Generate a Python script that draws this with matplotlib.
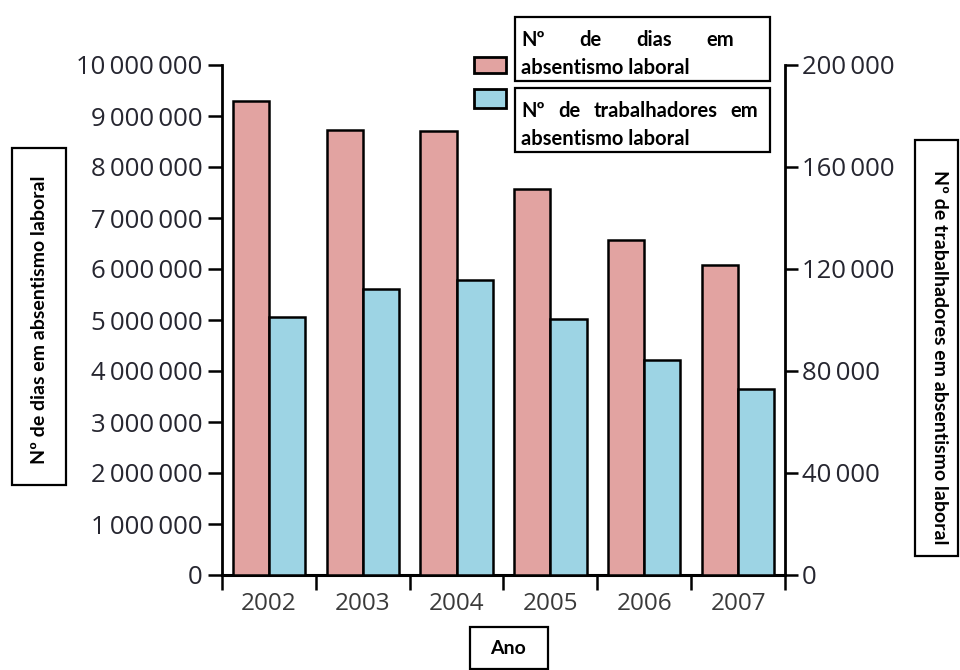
import matplotlib
matplotlib.use("Agg")
import matplotlib.pyplot as plt
from matplotlib.patches import Rectangle
import numpy as np

# data
anos = ['2002', '2003', '2004', '2005', '2006', '2007']
dias = [9290000, 8730000, 8710000, 7560000, 6570000, 6080000]  # left axis
trabalhadores = [101300, 112000, 115700, 100300, 84300, 72900]  # right axis
left_ticks = np.arange(0, 10000001, 1000000)
right_ticks = np.arange(0, 200001, 40000)
label_dias = 'Nº de dias em absentismo laboral'
label_trab = 'Nº de trabalhadores em absentismo laboral'

W, H = 960, 670
pink = '#e2a3a1'
blue = '#9dd4e4'
numFont = ['Open Sans', 'DejaVu Sans']
boldFont = ['Lato', 'DejaVu Sans']

def px(x, y):  # pixel position -> figure fraction
    return x / W, 1 - y / H

def fmt(v):
    s = '{:,}'.format(int(v))
    return s.replace(',', '\u2009')

fig = plt.figure(figsize=(9.6, 6.7), dpi=100)
ax = fig.add_axes([222 / W, 1 - 575 / H, (785 - 222) / W, (575 - 65) / H])
ax2 = ax.twinx()

x = np.arange(len(anos))
bw = 0.385
ax.bar(x - bw / 2, dias, bw, color=pink, edgecolor='black', linewidth=1.8, zorder=3)
ax2.bar(x + bw / 2, trabalhadores, bw, color=blue, edgecolor='black', linewidth=1.8, zorder=3)

ax.set_xlim(-0.5, len(anos) - 0.5)
ax.set_ylim(0, 10000000)
ax2.set_ylim(0, 200000)

# left axis
ax.set_yticks(left_ticks)
ax.set_yticklabels([fmt(v) for v in left_ticks], family=numFont, fontsize=18.5, color='#262630')
ax.tick_params(axis='y', direction='out', length=10, width=1.8, pad=4)

# right axis
ax2.set_yticks(right_ticks)
ax2.set_yticklabels([fmt(v) for v in right_ticks], family=numFont, fontsize=18.5, color='#262630')
ax2.tick_params(axis='y', direction='out', length=9, width=1.8, pad=3)

# x axis: ticks between groups, labels at centers
ax.set_xticks(np.arange(-0.5, len(anos), 1.0))
ax.set_xticklabels([])
ax.set_xticks(x, minor=True)
ax.set_xticklabels(anos, minor=True, family=numFont, fontsize=17.5, color='#3a3a3a')
ax.tick_params(axis='x', which='major', direction='out', length=11, width=1.8)
ax.tick_params(axis='x', which='minor', length=0, pad=12)

for s in ['top', 'right']:
    ax.spines[s].set_visible(False)
for s in ['top', 'left', 'bottom']:
    ax2.spines[s].set_visible(False)
ax.spines['left'].set_linewidth(2)
ax.spines['bottom'].set_linewidth(2.2)
ax2.spines['right'].set_linewidth(2)

# boxed axis titles
def box(x0, y0, x1, y1):
    (fx0, fy1), (fx1, fy0) = px(x0, y0), px(x1, y1)
    fig.patches.append(Rectangle((fx0, fy0), fx1 - fx0, fy1 - fy0, transform=fig.transFigure,
                                 fill=False, edgecolor='black', linewidth=1.6, zorder=5))

box(12, 148, 66, 485)
fig.text(*px(40, 320), label_dias, rotation=90, ha='center', va='center',
         family=boldFont, fontweight='bold', fontsize=14)
box(915, 140, 958, 556)
fig.text(*px(940, 357), label_trab, rotation=-90, ha='center', va='center',
         family=boldFont, fontweight='bold', fontsize=14)
box(470, 627, 548, 669)
fig.text(*px(508, 649), 'Ano', ha='center', va='center',
         family=boldFont, fontweight='bold', fontsize=14)

# legend with justified text boxes
for (y0, y1), c in zip([(57, 73), (89, 108)], [pink, blue]):
    (fx0, fy1), (fx1, fy0) = px(474, y0), px(506, y1)
    fig.patches.append(Rectangle((fx0, fy0), fx1 - fx0, fy1 - fy0, transform=fig.transFigure,
                                 facecolor=c, edgecolor='black', linewidth=2, zorder=5))
box(515, 17, 770, 81)
box(515, 88, 770, 152)

txtkw = dict(family=boldFont, fontweight='bold', fontsize=14.5, va='center')

def justified(words, x0, x1, y):
    texts = [fig.text(0, 0, w, **txtkw) for w in words]
    fig.canvas.draw()
    r = fig.canvas.get_renderer()
    widths = [t.get_window_extent(r).width for t in texts]
    gap = (x1 - x0 - sum(widths)) / (len(words) - 1)
    xx = x0
    for t, w in zip(texts, widths):
        t.set_position(px(xx, y))
        xx += w + gap

justified(['Nº', 'de', 'dias', 'em'], 521, 734, 40)
fig.text(*px(521, 68), 'absentismo laboral', **txtkw)
justified(['Nº', 'de', 'trabalhadores', 'em'], 521, 758, 111)
fig.text(*px(521, 139), 'absentismo laboral', **txtkw)

fig.savefig('out.png', dpi=100)
